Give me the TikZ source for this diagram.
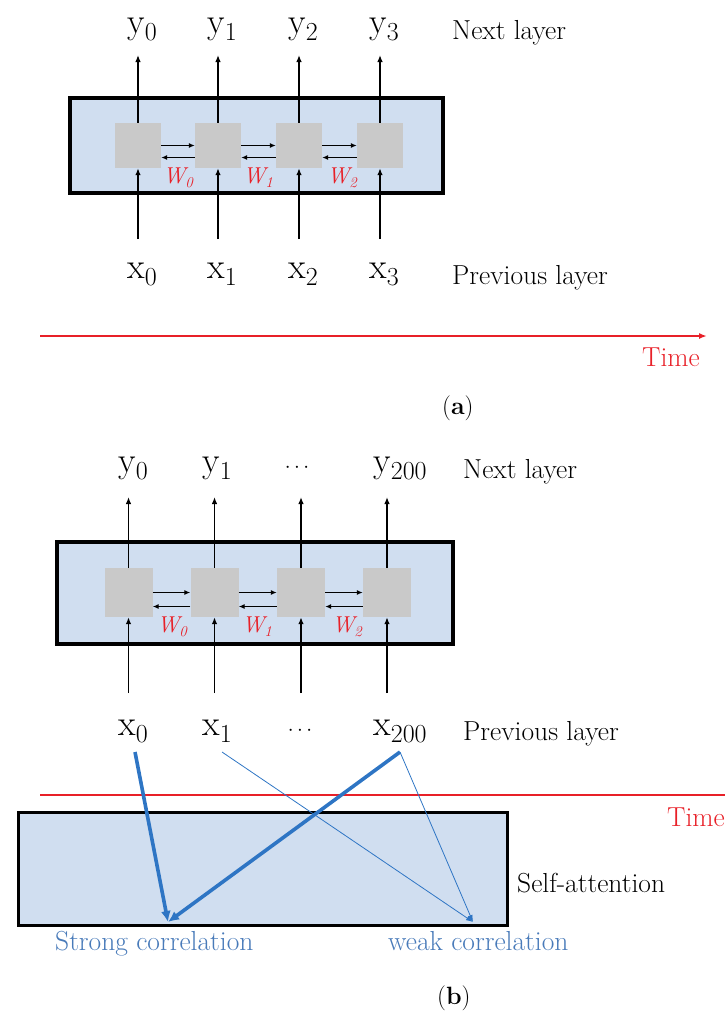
\documentclass[tikz,border=0pt]{standalone}
\usepackage{fontspec}
\usetikzlibrary{arrows.meta}
\definecolor{boxblue}{RGB}{208,222,240}
\definecolor{cellgray}{RGB}{201,201,201}
\definecolor{tred}{RGB}{232,32,40}
\definecolor{attblue}{RGB}{46,117,196}
\definecolor{txtblue}{RGB}{72,122,185}
\newcommand\myvar[2]{#1\raisebox{-7pt}{\fontsize{26}{30}\selectfont #2}}
\newcommand\myw[1]{W\raisebox{-4pt}{\fontsize{15}{17}\selectfont #1}}
\begin{document}
\begin{tikzpicture}[x=1pt,y=-1pt,
  txt/.style={font=\fontsize{27.5}{32}\selectfont, inner sep=0pt, anchor=base west},
  captxt/.style={font=\fontsize{25}{30}\selectfont, inner sep=0pt, anchor=base west},
  var/.style={font=\fontsize{36}{42}\selectfont, inner sep=0pt, anchor=base},
  cell/.style={fill=cellgray, minimum width=46pt, minimum height=45pt, inner sep=0pt},
  layer/.style={draw=black, line width=3.5pt, fill=boxblue, inner sep=0pt},
  arr/.style={-{Latex[length=7pt,width=5.5pt]}, line width=1.3pt},
  harr/.style={-{Latex[length=6pt,width=5pt]}, line width=1.2pt},
  wlab/.style={text=tred, font=\fontsize{23}{27}\selectfont\itshape, inner sep=0pt, anchor=base},
  timeline/.style={draw=tred, line width=1.6pt, -{Latex[length=8pt,width=6pt]}},
  strong/.style={draw=attblue, line width=3.6pt, -{Latex[length=11pt,width=10pt]}},
  weak/.style={draw=attblue, line width=0.8pt, -{Latex[length=7pt,width=5pt]}}
]
\useasboundingbox (0,0) rectangle (725,1012);

% ---------------- panel (a) ----------------
\node[layer, minimum width=373pt, minimum height=95pt] (boxA) at (256.5,145.5) {};
\foreach \i/\x in {0/138,1/218,2/299,3/380}{
  \node[cell] (ca\i) at (\x,145.5) {};
  \node[var] (ya\i) at (\x+4,33) {\myvar{y}{\i}};
  \node[var] (xa\i) at (\x+4,278) {\myvar{x}{\i}};
  \coordinate (ua\i) at (\x,55);
  \coordinate (ba\i) at (\x,239);
  \draw[arr] (ca\i.north) -- (ua\i);
  \draw[arr] (ba\i) -- (ca\i.south);
}
\foreach \i/\j in {0/1,1/2,2/3}{
  \draw[harr] (ca\i.east) -- (ca\j.west);
  \draw[harr] ([yshift=-12pt]ca\j.west) -- ([yshift=-12pt]ca\i.east);
}
\node[wlab] (wa0) at (178,183) {\myw{0}};
\node[wlab] (wa1) at (258,183) {\myw{1}};
\node[wlab] (wa2) at (342,183) {\myw{2}};
\node[txt] (nla) at (452,39) {Next layer};
\node[txt] (pla) at (452,284) {Previous layer};
\coordinate (tas) at (40,336);
\coordinate (tae) at (707,336);
\draw[timeline] (tas) -- (tae);
\node[txt, text=tred] (tia) at (642,366) {Time};
\node[captxt] (capa) at (442,414) {(\textbf{a})};

% ---------------- panel (b) ----------------
\node[layer, minimum width=396pt, minimum height=102pt] (boxB) at (255,593) {};
\foreach \i/\x in {0/128.5,1/214.5,2/301,3/387}{
  \node[cell, minimum width=48pt, minimum height=49pt] (cb\i) at (\x,592.5) {};
  \coordinate (ub\i) at (\x,497);
  \coordinate (bb\i) at (\x,693);
  \draw[arr] (cb\i.north) -- (ub\i);
  \draw[arr] (bb\i) -- (cb\i.south);
}
\foreach \i/\j in {0/1,1/2,2/3}{
  \draw[harr] (cb\i.east) -- (cb\j.west);
  \draw[harr] ([yshift=-14pt]cb\j.west) -- ([yshift=-14pt]cb\i.east);
}
\node[wlab] (wb0) at (172,632) {\myw{0}};
\node[wlab] (wb1) at (257,632) {\myw{1}};
\node[wlab] (wb2) at (347,632) {\myw{2}};

\node[var] (yb0) at (133,472) {\myvar{y}{0}};
\node[var] (yb1) at (217,472) {\myvar{y}{1}};
\node[var] (ybd) at (297,472) {\fontsize{22}{26}\selectfont$\cdots$};
\node[var] (yb3) at (400,472) {\myvar{y}{200}};
\node[var] (xb0) at (133,735) {\myvar{x}{0}};
\node[var] (xb1) at (217,735) {\myvar{x}{1}};
\node[var] (xbd) at (300,735) {\fontsize{22}{26}\selectfont$\cdots$};
\node[var] (xb3) at (400,735) {\myvar{x}{200}};
\node[txt] (nlb) at (463,478) {Next layer};
\node[txt] (plb) at (463,740) {Previous layer};

\coordinate (tbs) at (40,795);
\coordinate (tbe) at (745,795);
\draw[timeline] (tbs) -- (tbe);
\node[txt, text=tred] (tib) at (667,826) {Time};

\node[layer, line width=3pt, minimum width=489pt, minimum height=113pt] (att) at (262.5,868.5) {};
\node[txt] (sat) at (517,892) {Self-attention};
\node[txt, text=txtblue] (sc) at (55,950) {Strong correlation};
\node[txt, text=txtblue] (wc) at (388,950) {weak correlation};

\coordinate (s0) at (135,752);
\coordinate (s1) at (222,752);
\coordinate (s3) at (400,752);
\coordinate (es) at (168,922);
\coordinate (ew) at (473,922);
\draw[weak] (s1) -- (ew);
\draw[weak] (s3) -- (ew);
\draw[strong] (s0) -- (es);
\draw[strong] (s3) -- (es);
\node[captxt] (capb) at (437,1004) {(\textbf{b})};
\end{tikzpicture}
\end{document}
